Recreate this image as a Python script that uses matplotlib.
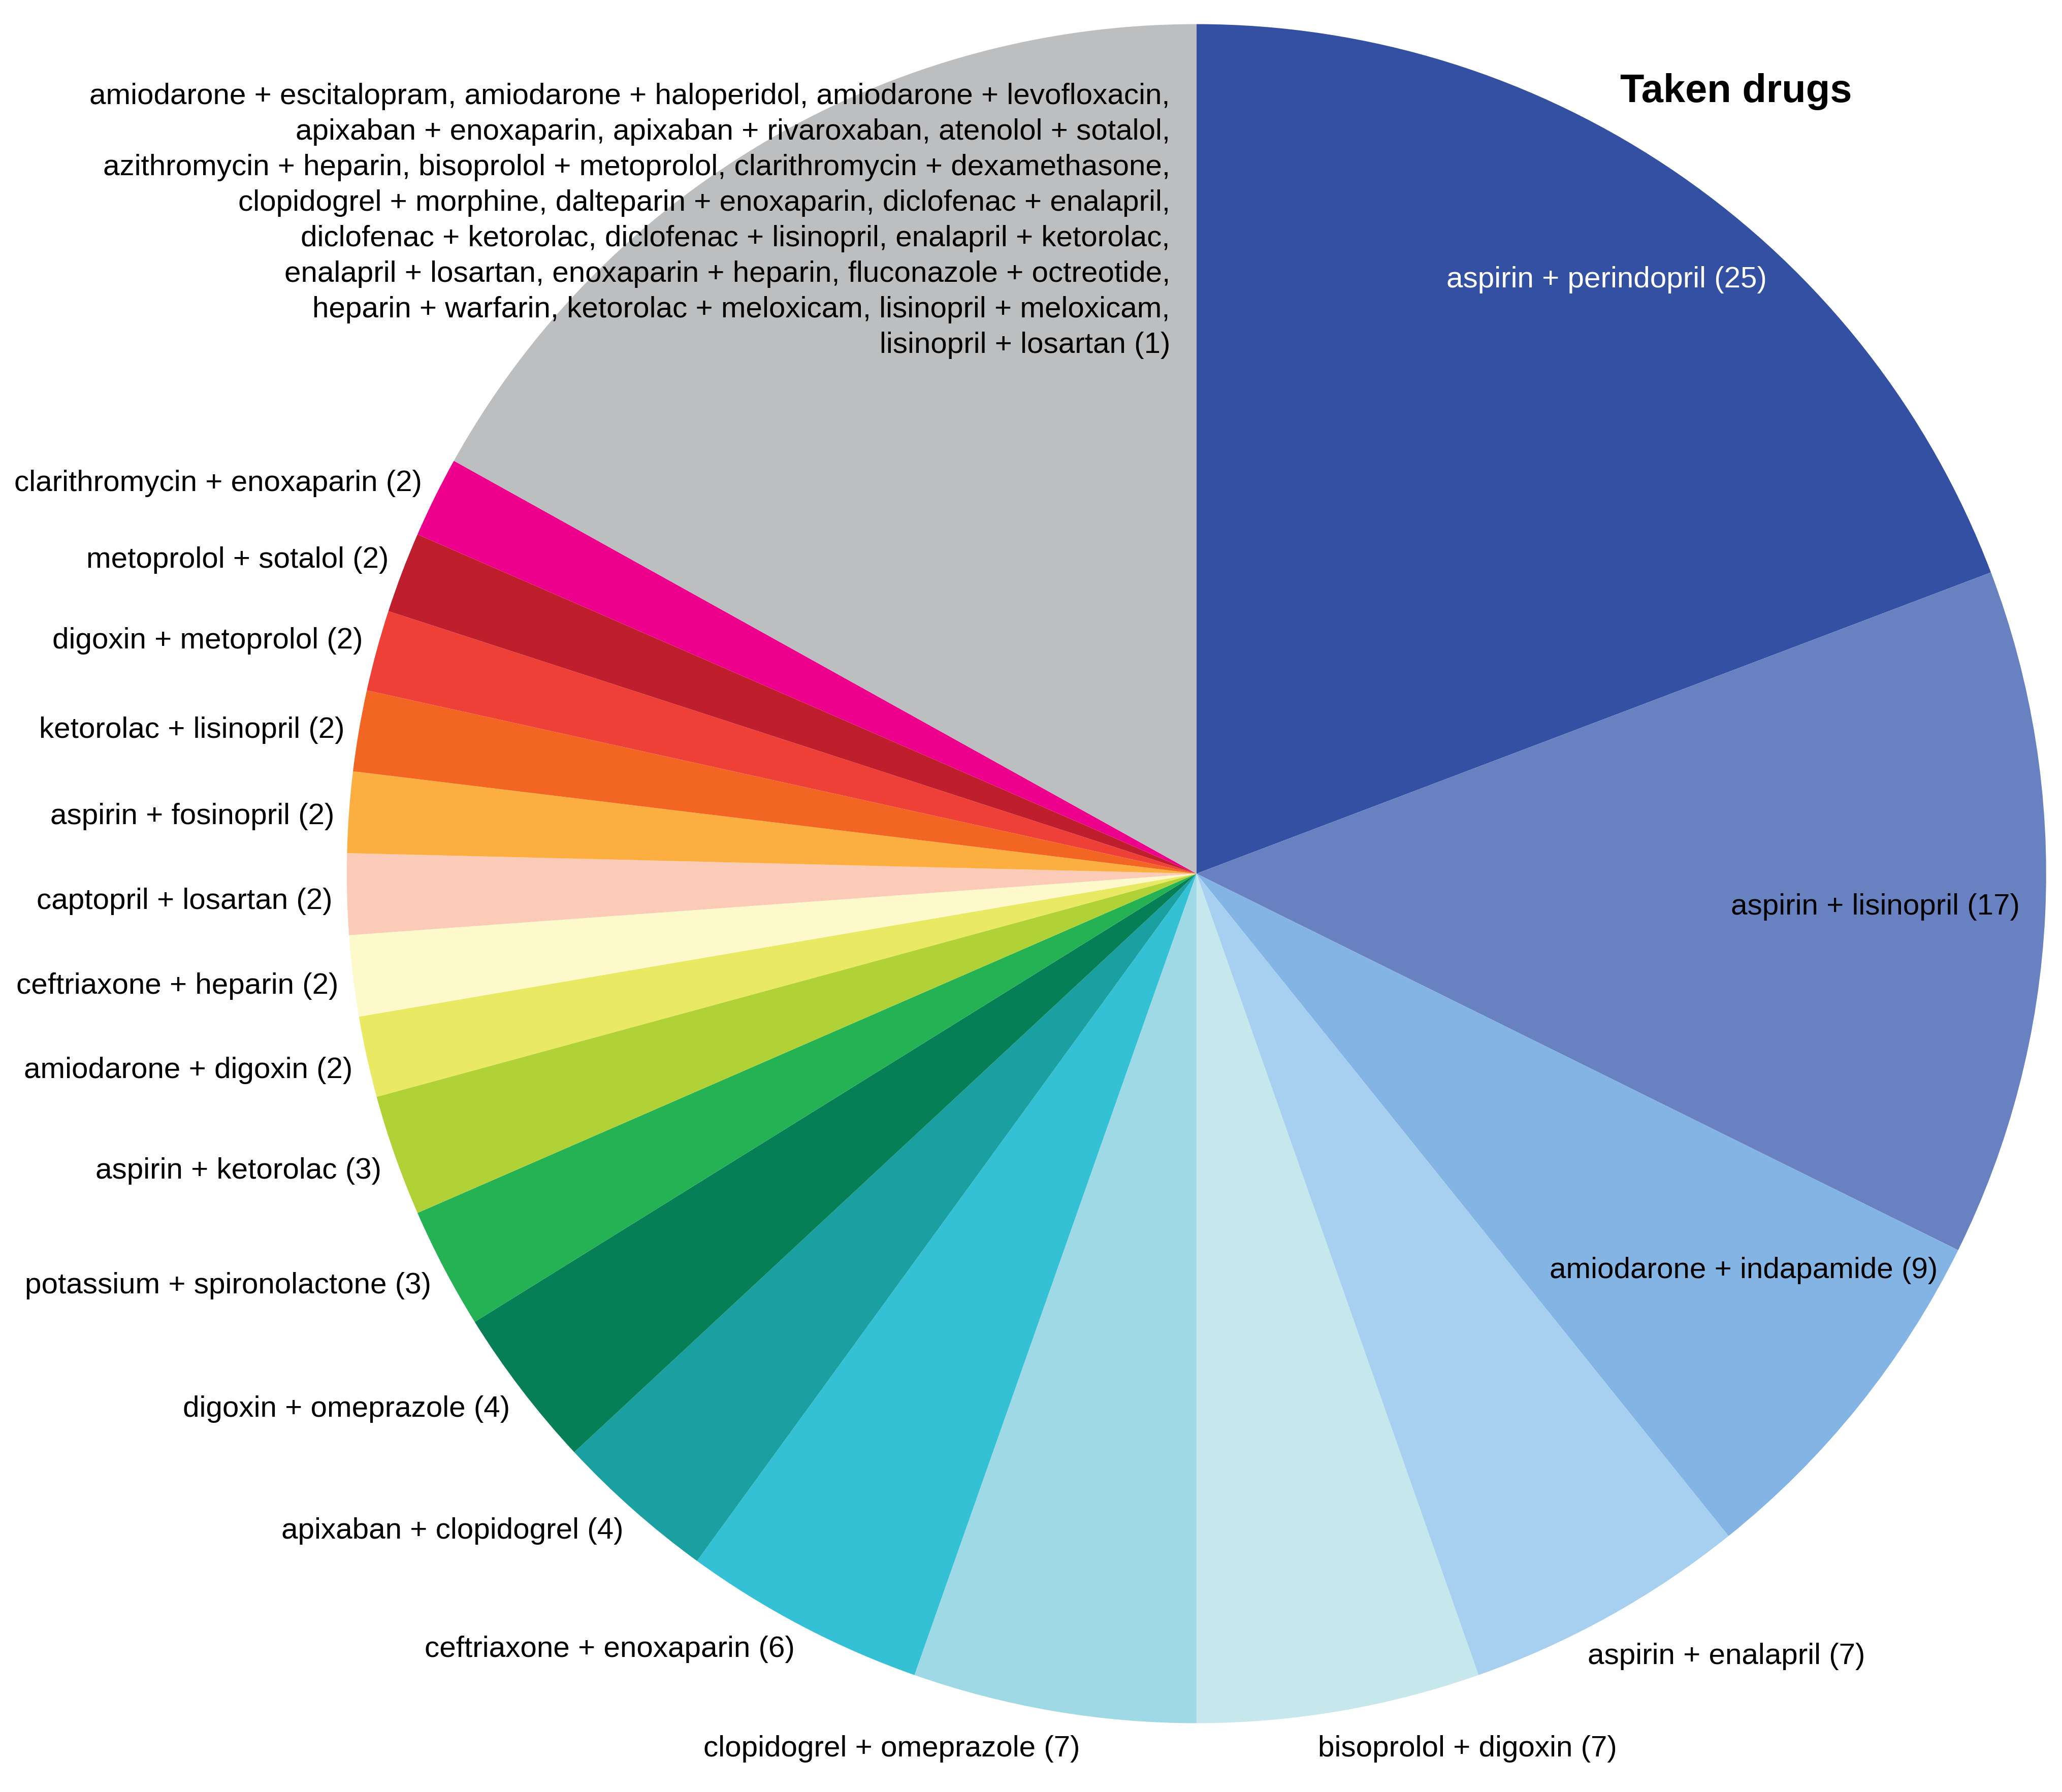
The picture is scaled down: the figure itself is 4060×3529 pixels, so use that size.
import numpy as np
import matplotlib
matplotlib.use("Agg")
import matplotlib.pyplot as plt

plt.rcParams['font.family'] = ['Liberation Sans', 'DejaVu Sans']

# drug pairs, going clockwise from 12 o'clock
pairs = ['aspirin + perindopril', 'aspirin + lisinopril', 'amiodarone + indapamide',
         'aspirin + enalapril', 'bisoprolol + digoxin', 'clopidogrel + omeprazole',
         'ceftriaxone + enoxaparin', 'apixaban + clopidogrel', 'digoxin + omeprazole',
         'potassium + spironolactone', 'aspirin + ketorolac', 'amiodarone + digoxin',
         'ceftriaxone + heparin', 'captopril + losartan', 'aspirin + fosinopril',
         'ketorolac + lisinopril', 'digoxin + metoprolol', 'metoprolol + sotalol',
         'clarithromycin + enoxaparin']
counts = [25, 17, 9, 7, 7, 7, 6, 4, 4, 3, 3, 2, 2, 2, 2, 2, 2, 2, 2]

# pairs seen only once, grouped in one grey slice
singles = ['amiodarone + escitalopram', 'amiodarone + haloperidol', 'amiodarone + levofloxacin',
           'apixaban + enoxaparin', 'apixaban + rivaroxaban', 'atenolol + sotalol',
           'azithromycin + heparin', 'bisoprolol + metoprolol', 'clarithromycin + dexamethasone',
           'clopidogrel + morphine', 'dalteparin + enoxaparin', 'diclofenac + enalapril',
           'diclofenac + ketorolac', 'diclofenac + lisinopril', 'enalapril + ketorolac',
           'enalapril + losartan', 'enoxaparin + heparin', 'fluconazole + octreotide',
           'heparin + warfarin', 'ketorolac + meloxicam', 'lisinopril + meloxicam',
           'lisinopril + losartan']
single_count = 1

colors = ['#3450A3', '#6882C1', '#83B4E3', '#A6CFF0', '#C6E7EC', '#A0D9E6',
          '#34C1D6', '#1AA0A0', '#067F56', '#24B254', '#B0D236', '#E9E964',
          '#FEF9CA', '#FCCBB7', '#FDAE40', '#F26522', '#EE4036', '#BF1E2D',
          '#EC008C', '#BDBEC0']

values = counts + [single_count * len(singles)]

fig = plt.figure(figsize=(20.3, 17.65), dpi=200)
ax = fig.add_axes([0, 0, 1, 1])
wedges, _ = ax.pie(values, colors=colors, startangle=90, counterclock=False,
                   radius=1.0, wedgeprops=dict(linewidth=0))
ax.set_xlim(-1.408, 1.0185)
ax.set_ylim(-1.081, 1.029)
ax.set_aspect('equal')
ax.axis('off')

fs = 21
inside = {0: 0.85, 1: 0.80, 2: 0.79}
# small label nudges (axes units) to sit like the original
nudge = {2: (0.028, 0.028), 3: (-0.034, -0.02), 4: (-0.028, -0.015),
         5: (0.034, -0.015)}
for i, w in enumerate(wedges[:-1]):
    mid = np.deg2rad((w.theta1 + w.theta2) / 2)
    lab = '%s (%d)' % (pairs[i], counts[i])
    dx, dy = nudge.get(i, (0, 0))
    if i in inside:
        d = inside[i]
        ax.text(d * np.cos(mid) + dx, d * np.sin(mid) + dy, lab, ha='center',
                va='center', fontsize=fs, color='white' if i == 0 else 'black')
    else:
        d = 1.017
        s = np.sin(mid)
        x = d * np.cos(mid)
        y = d * s - 0.02 * np.clip(0.35 - s, 0, 0.6)
        y += 0.009 * np.clip((s - 0.15) / 0.1, 0, 1)
        ax.text(x + dx, y + dy, lab, ha='left' if x > 0 else 'right', va='center',
                fontsize=fs, color='black')

# grey slice label, wrapped like the original
lines = [singles[0:3], singles[3:6], singles[6:9], singles[9:12], singles[12:15],
         singles[15:18], singles[18:21], singles[21:]]
block = ',\n'.join(', '.join(l) for l in lines) + ' (%d)' % single_count
ax.text(-0.031, 0.769, block, ha='right', va='center', fontsize=fs,
        linespacing=1.38)

ax.text(0.635, 0.921, 'Taken drugs', ha='center', va='center', fontsize=28,
        fontweight='bold')

fig.savefig('out.png', dpi=200, facecolor='white')
